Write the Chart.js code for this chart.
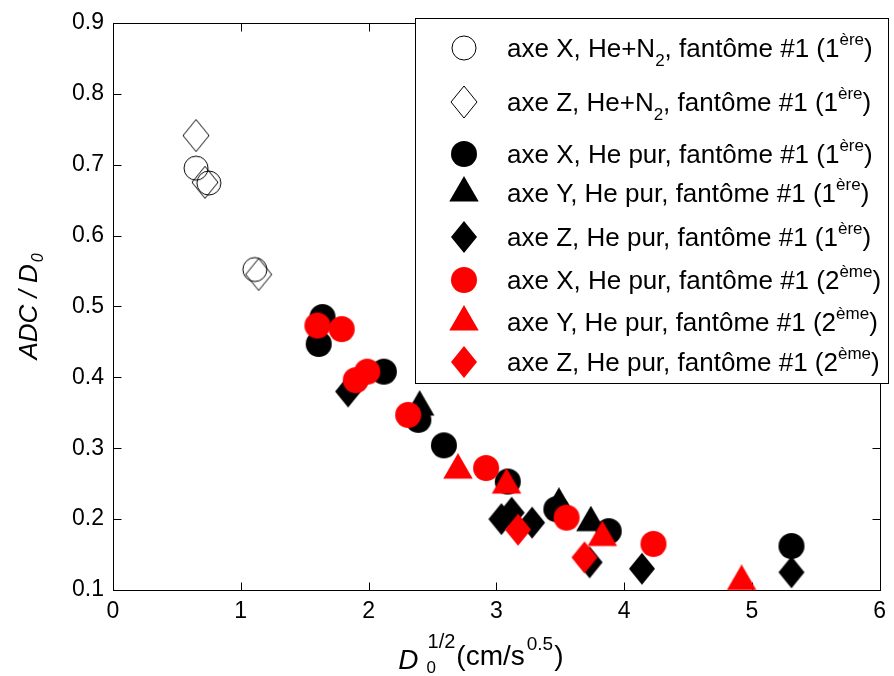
<!DOCTYPE html>
<html>
<head>
<meta charset="utf-8">
<script src="https://cdn.jsdelivr.net/npm/chart.js@4.4.1/dist/chart.umd.min.js"></script>
<style>
    html, body { margin: 0; padding: 0; background: #ffffff; }
    canvas { display: block; }
</style>
</head>
<body>
<canvas id="adcChart" width="894" height="676"></canvas>
<script>
// Values: x = D0^(1/2) (cm/s^0.5), y = ADC / D0
const openCircleX = [0.65, 0.75, 1.11];
const openCircleY = [0.695, 0.674, 0.552];
const openDiamondX = [0.65, 0.72, 1.14];
const openDiamondY = [0.741, 0.675, 0.545];

const blackCircleX = [1.64, 1.61, 2.12, 2.39, 2.59, 3.09, 3.47, 3.88, 5.31];
const blackCircleY = [0.485, 0.447, 0.408, 0.340, 0.304, 0.253, 0.214, 0.183, 0.162];
const blackTriangleX = [2.40, 3.49, 3.74];
const blackTriangleY = [0.358, 0.221, 0.195];
const blackDiamondX = [1.84, 3.04, 3.12, 3.28, 3.73, 4.14, 5.31];
const blackDiamondY = [0.380, 0.200, 0.209, 0.195, 0.139, 0.130, 0.125];

const redCircleX = [1.60, 1.79, 1.90, 1.99, 2.31, 2.92, 3.55, 4.23];
const redCircleY = [0.473, 0.468, 0.396, 0.408, 0.347, 0.272, 0.202, 0.165];
const redTriangleX = [2.70, 3.08, 3.83, 4.92];
const redTriangleY = [0.269, 0.248, 0.174, 0.112];
const redDiamondX = [3.17, 3.69];
const redDiamondY = [0.185, 0.146];

const xTicks = [0, 1, 2, 3, 4, 5, 6];
const yTicks = [0.1, 0.2, 0.3, 0.4, 0.5, 0.6, 0.7, 0.8, 0.9];

// legend labels split in pieces: [text, '' | 'sub' | 'sup']
const legendLabels = [
    [['axe X, He+N', ''], ['2', 'sub'], [', fantôme #1 (1', ''], ['ère', 'sup'], [')', '']],
    [['axe Z, He+N', ''], ['2', 'sub'], [', fantôme #1 (1', ''], ['ère', 'sup'], [')', '']],
    [['axe X, He pur, fantôme #1 (1', ''], ['ère', 'sup'], [')', '']],
    [['axe Y, He pur, fantôme #1 (1', ''], ['ère', 'sup'], [')', '']],
    [['axe Z, He pur, fantôme #1 (1', ''], ['ère', 'sup'], [')', '']],
    [['axe X, He pur, fantôme #1 (2', ''], ['ème', 'sup'], [')', '']],
    [['axe Y, He pur, fantôme #1 (2', ''], ['ème', 'sup'], [')', '']],
    [['axe Z, He pur, fantôme #1 (2', ''], ['ème', 'sup'], [')', '']]
];

const FONT = "'Liberation Sans', Arial, Helvetica, sans-serif";

// Marker images (MATLAB-like: circles, taller-than-wide diamonds, triangles)
function makeMarker(shape, color, filled) {
    const c = document.createElement('canvas');
    let w = 28, h = 28;
    if (shape === 'diamond') { w = 28; h = 34; }
    if (shape === 'triangle') { w = 32; h = 34; }
    c.width = w; c.height = h;
    const g = c.getContext('2d');
    g.beginPath();
    if (shape === 'circle') {
        g.arc(w / 2, h / 2, filled ? 13 : 12, 0, Math.PI * 2);
    } else if (shape === 'diamond') {
        g.moveTo(w / 2, 1);
        g.lineTo(w - 1, h / 2);
        g.lineTo(w / 2, h - 1);
        g.lineTo(1, h / 2);
        g.closePath();
    } else {
        const r = 17;
        g.moveTo(w / 2, h / 2 - r);
        g.lineTo(w / 2 + r * Math.sqrt(3) / 2, h / 2 + r / 2);
        g.lineTo(w / 2 - r * Math.sqrt(3) / 2, h / 2 + r / 2);
        g.closePath();
    }
    if (filled) {
        g.fillStyle = color;
        g.fill();
    } else {
        g.strokeStyle = color;
        g.lineWidth = 1;
        g.stroke();
    }
    return c;
}

const markers = [
    makeMarker('circle', '#000000', false),
    makeMarker('diamond', '#000000', false),
    makeMarker('circle', '#000000', true),
    makeMarker('triangle', '#000000', true),
    makeMarker('diamond', '#000000', true),
    makeMarker('circle', '#ff0000', true),
    makeMarker('triangle', '#ff0000', true),
    makeMarker('diamond', '#ff0000', true)
];

function toPoints(xs, ys) {
    return xs.map((x, i) => ({ x: x, y: ys[i] }));
}

const seriesData = [
    toPoints(openCircleX, openCircleY),
    toPoints(openDiamondX, openDiamondY),
    toPoints(blackCircleX, blackCircleY),
    toPoints(blackTriangleX, blackTriangleY),
    toPoints(blackDiamondX, blackDiamondY),
    toPoints(redCircleX, redCircleY),
    toPoints(redTriangleX, redTriangleY),
    toPoints(redDiamondX, redDiamondY)
];

// draws a run of text pieces with sub/superscripts on a baseline, returns end x
function drawRich(ctx, pieces, x, y, size) {
    const small = Math.round(size * 0.64);
    pieces.forEach(p => {
        const [txt, mode] = p;
        const fs = mode ? small : size;
        ctx.font = fs + 'px ' + FONT;
        let dy = 0;
        if (mode === 'sub') dy = size * 0.36;
        if (mode === 'sup') dy = -size * 0.45;
        ctx.fillText(txt, x, y + dy);
        x += ctx.measureText(txt).width;
    });
    return x;
}

const matlabAxes = {
    id: 'matlabAxes',
    beforeDatasetsDraw(chart) {
        const { ctx, chartArea: a, scales } = chart;
        ctx.save();
        ctx.strokeStyle = '#000000';
        ctx.lineWidth = 1;
        const L = Math.round(a.left) + 0.5, R = Math.round(a.right) + 0.5;
        const T = Math.round(a.top) + 0.5, B = Math.round(a.bottom) + 0.5;
        ctx.strokeRect(L, T, R - L, B - T);
        ctx.beginPath();
        xTicks.forEach(v => {
            const px = Math.round(scales.x.getPixelForValue(v)) + 0.5;
            ctx.moveTo(px, B); ctx.lineTo(px, B - 8);
            ctx.moveTo(px, T); ctx.lineTo(px, T + 8);
        });
        yTicks.forEach(v => {
            const py = Math.round(scales.y.getPixelForValue(v)) + 0.5;
            ctx.moveTo(L, py); ctx.lineTo(L + 8, py);
            ctx.moveTo(R, py); ctx.lineTo(R - 8, py);
        });
        ctx.stroke();

        // x axis title: D_0^{1/2}(cm/s^{0.5})
        ctx.fillStyle = '#000000';
        ctx.textBaseline = 'alphabetic';
        ctx.textAlign = 'left';
        const cx = (a.left + a.right) / 2;
        let x = cx - 98;
        const base = a.bottom + 76;
        ctx.font = 'italic 28px ' + FONT;
        ctx.fillText('D', x, base + 3);
        x += ctx.measureText('D').width + 8;
        ctx.font = '17px ' + FONT;
        ctx.fillText('0', x, base + 7);
        ctx.font = '20px ' + FONT;
        ctx.fillText('1/2', x + 1, base - 18);
        x += ctx.measureText('1/2').width + 2;
        ctx.font = '28px ' + FONT;
        ctx.fillText('(cm/s', x, base - 1);
        x += ctx.measureText('(cm/s').width + 2;
        ctx.font = '19px ' + FONT;
        ctx.fillText('0.5', x, base - 16);
        x += ctx.measureText('0.5').width + 1;
        ctx.font = '28px ' + FONT;
        ctx.fillText(')', x, base - 1);

        // y axis title: ADC / D_0 (rotated)
        ctx.save();
        ctx.translate(37, (a.top + a.bottom) / 2);
        ctx.rotate(-Math.PI / 2);
        ctx.font = 'italic 26px ' + FONT;
        const w1 = ctx.measureText('ADC / D').width;
        ctx.font = 'italic 16px ' + FONT;
        const w2 = ctx.measureText('0').width;
        const tx = -(w1 + w2 + 2) / 2;
        ctx.font = 'italic 26px ' + FONT;
        ctx.fillText('ADC / D', tx, 0);
        ctx.font = 'italic 16px ' + FONT;
        ctx.fillText('0', tx + w1 + 2, 6);
        ctx.restore();
        ctx.restore();
    },
    afterDraw(chart) {
        const { ctx } = chart;
        const boxLeft = 415.5, boxTop = 18.5, boxRight = 888.5, boxBottom = 383.5;
        const rowY = [48, 102, 154, 193, 237, 280, 322, 362];
        ctx.save();
        ctx.fillStyle = '#ffffff';
        ctx.fillRect(boxLeft, boxTop, boxRight - boxLeft, boxBottom - boxTop);
        ctx.strokeStyle = '#000000';
        ctx.lineWidth = 1;
        ctx.strokeRect(boxLeft, boxTop, boxRight - boxLeft, boxBottom - boxTop);
        ctx.fillStyle = '#000000';
        ctx.textBaseline = 'alphabetic';
        ctx.textAlign = 'left';
        legendLabels.forEach((pieces, i) => {
            const m = markers[i];
            ctx.drawImage(m, 464 - m.width / 2, rowY[i] - m.height / 2);
            drawRich(ctx, pieces, 507, rowY[i] + 9, 26);
        });
        ctx.restore();
    }
};

const ctx = document.getElementById('adcChart').getContext('2d');

new Chart(ctx, {
    type: 'scatter',
    data: {
        datasets: seriesData.map((pts, i) => ({
            label: 'serie ' + (i + 1),
            data: pts,
            pointStyle: markers[i],
            pointRadius: 13,
            showLine: false,
            clip: false,
            order: seriesData.length - i
        }))
    },
    options: {
        responsive: false,
        animation: false,
        layout: {
            padding: { top: 18, right: 13, left: 0, bottom: 0 }
        },
        plugins: {
            legend: { display: false },
            tooltip: { enabled: false }
        },
        scales: {
            x: {
                type: 'linear',
                min: 0,
                max: 6,
                grid: { display: false, drawTicks: false },
                border: { display: false },
                afterFit: scale => { scale.height = 86; },
                afterBuildTicks: scale => { scale.ticks = xTicks.map(v => ({ value: v })); },
                ticks: {
                    color: '#000000',
                    padding: 8,
                    font: { size: 23, family: FONT },
                    callback: value => String(value)
                }
            },
            y: {
                type: 'linear',
                min: 0.1,
                max: 0.9,
                grid: { display: false, drawTicks: false },
                border: { display: false },
                afterFit: scale => { scale.width = 113; },
                afterBuildTicks: scale => { scale.ticks = yTicks.map(v => ({ value: v })); },
                ticks: {
                    color: '#000000',
                    padding: 9,
                    font: { size: 23, family: FONT },
                    callback: value => value.toFixed(1)
                }
            }
        }
    },
    plugins: [matlabAxes]
});
</script>
</body>
</html>
